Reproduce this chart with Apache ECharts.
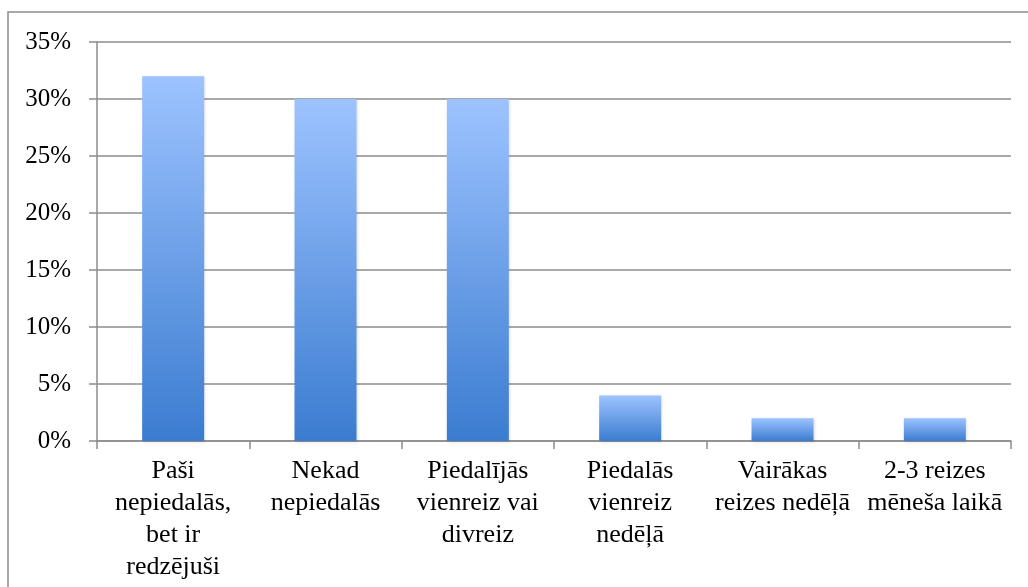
<!DOCTYPE html>
<html>
<head>
<meta charset="utf-8">
<script src="https://cdn.jsdelivr.net/npm/echarts@6/dist/echarts.min.js"></script>
<style>
    html, body { margin: 0; padding: 0; background: #fff; }
    #main { width: 1028px; height: 587px; }
</style>
</head>
<body>
<div id="main"></div>
<script>
    var categories = [
        'Paši\nnepiedalās,\nbet ir\nredzējuši',
        'Nekad\nnepiedalās',
        'Piedalījās\nvienreiz vai\ndivreiz',
        'Piedalās\nvienreiz\nnedēļā',
        'Vairākas\nreizes nedēļā',
        '2-3 reizes\nmēneša laikā'
    ];
    var values = [32, 30, 30, 4, 2, 2];
    var yTicks = [0, 5, 10, 15, 20, 25, 30, 35];

    var myChart = echarts.init(document.getElementById('main'));
    var lineColor = '#8c8c8c';
    var serif = '"Liberation Serif", "Times New Roman", "DejaVu Serif", serif';

    var option = {
        animation: false,
        backgroundColor: '#fff',
        textStyle: { fontFamily: serif },
        graphic: [{
            type: 'rect',
            shape: { x: 8, y: 12, width: 1040, height: 600 },
            style: { fill: 'none', stroke: lineColor, lineWidth: 1.5 }
        }],
        grid: { left: 97, right: 17, top: 42, bottom: 146 },
        xAxis: {
            type: 'category',
            data: categories,
            axisLine: { lineStyle: { color: lineColor, width: 1.5 } },
            axisTick: { show: true, length: 8, lineStyle: { color: lineColor, width: 1.5 } },
            axisLabel: {
                color: '#000',
                fontSize: 26,
                lineHeight: 32,
                margin: 14,
                interval: 0,
                fontFamily: serif
            }
        },
        yAxis: {
            type: 'value',
            min: yTicks[0],
            max: yTicks[yTicks.length - 1],
            interval: 5,
            axisLine: { show: true, lineStyle: { color: lineColor, width: 1.5 } },
            axisTick: { show: true, length: 8, lineStyle: { color: lineColor, width: 1.5 } },
            splitLine: { lineStyle: { color: lineColor, width: 1.5 } },
            axisLabel: {
                color: '#000',
                fontSize: 25,
                margin: 26,
                fontFamily: serif,
                formatter: '{value}%'
            }
        },
        series: [{
            type: 'bar',
            data: values,
            barWidth: 62,
            itemStyle: {
                color: new echarts.graphic.LinearGradient(0, 0, 0, 1, [
                    { offset: 0, color: '#9dc3ff' },
                    { offset: 1, color: '#3b7cd0' }
                ]),
                shadowBlur: 3,
                shadowColor: 'rgba(0,0,0,0.15)',
                shadowOffsetX: 1,
                shadowOffsetY: 1
            }
        }]
    };
    myChart.setOption(option);
</script>
</body>
</html>
